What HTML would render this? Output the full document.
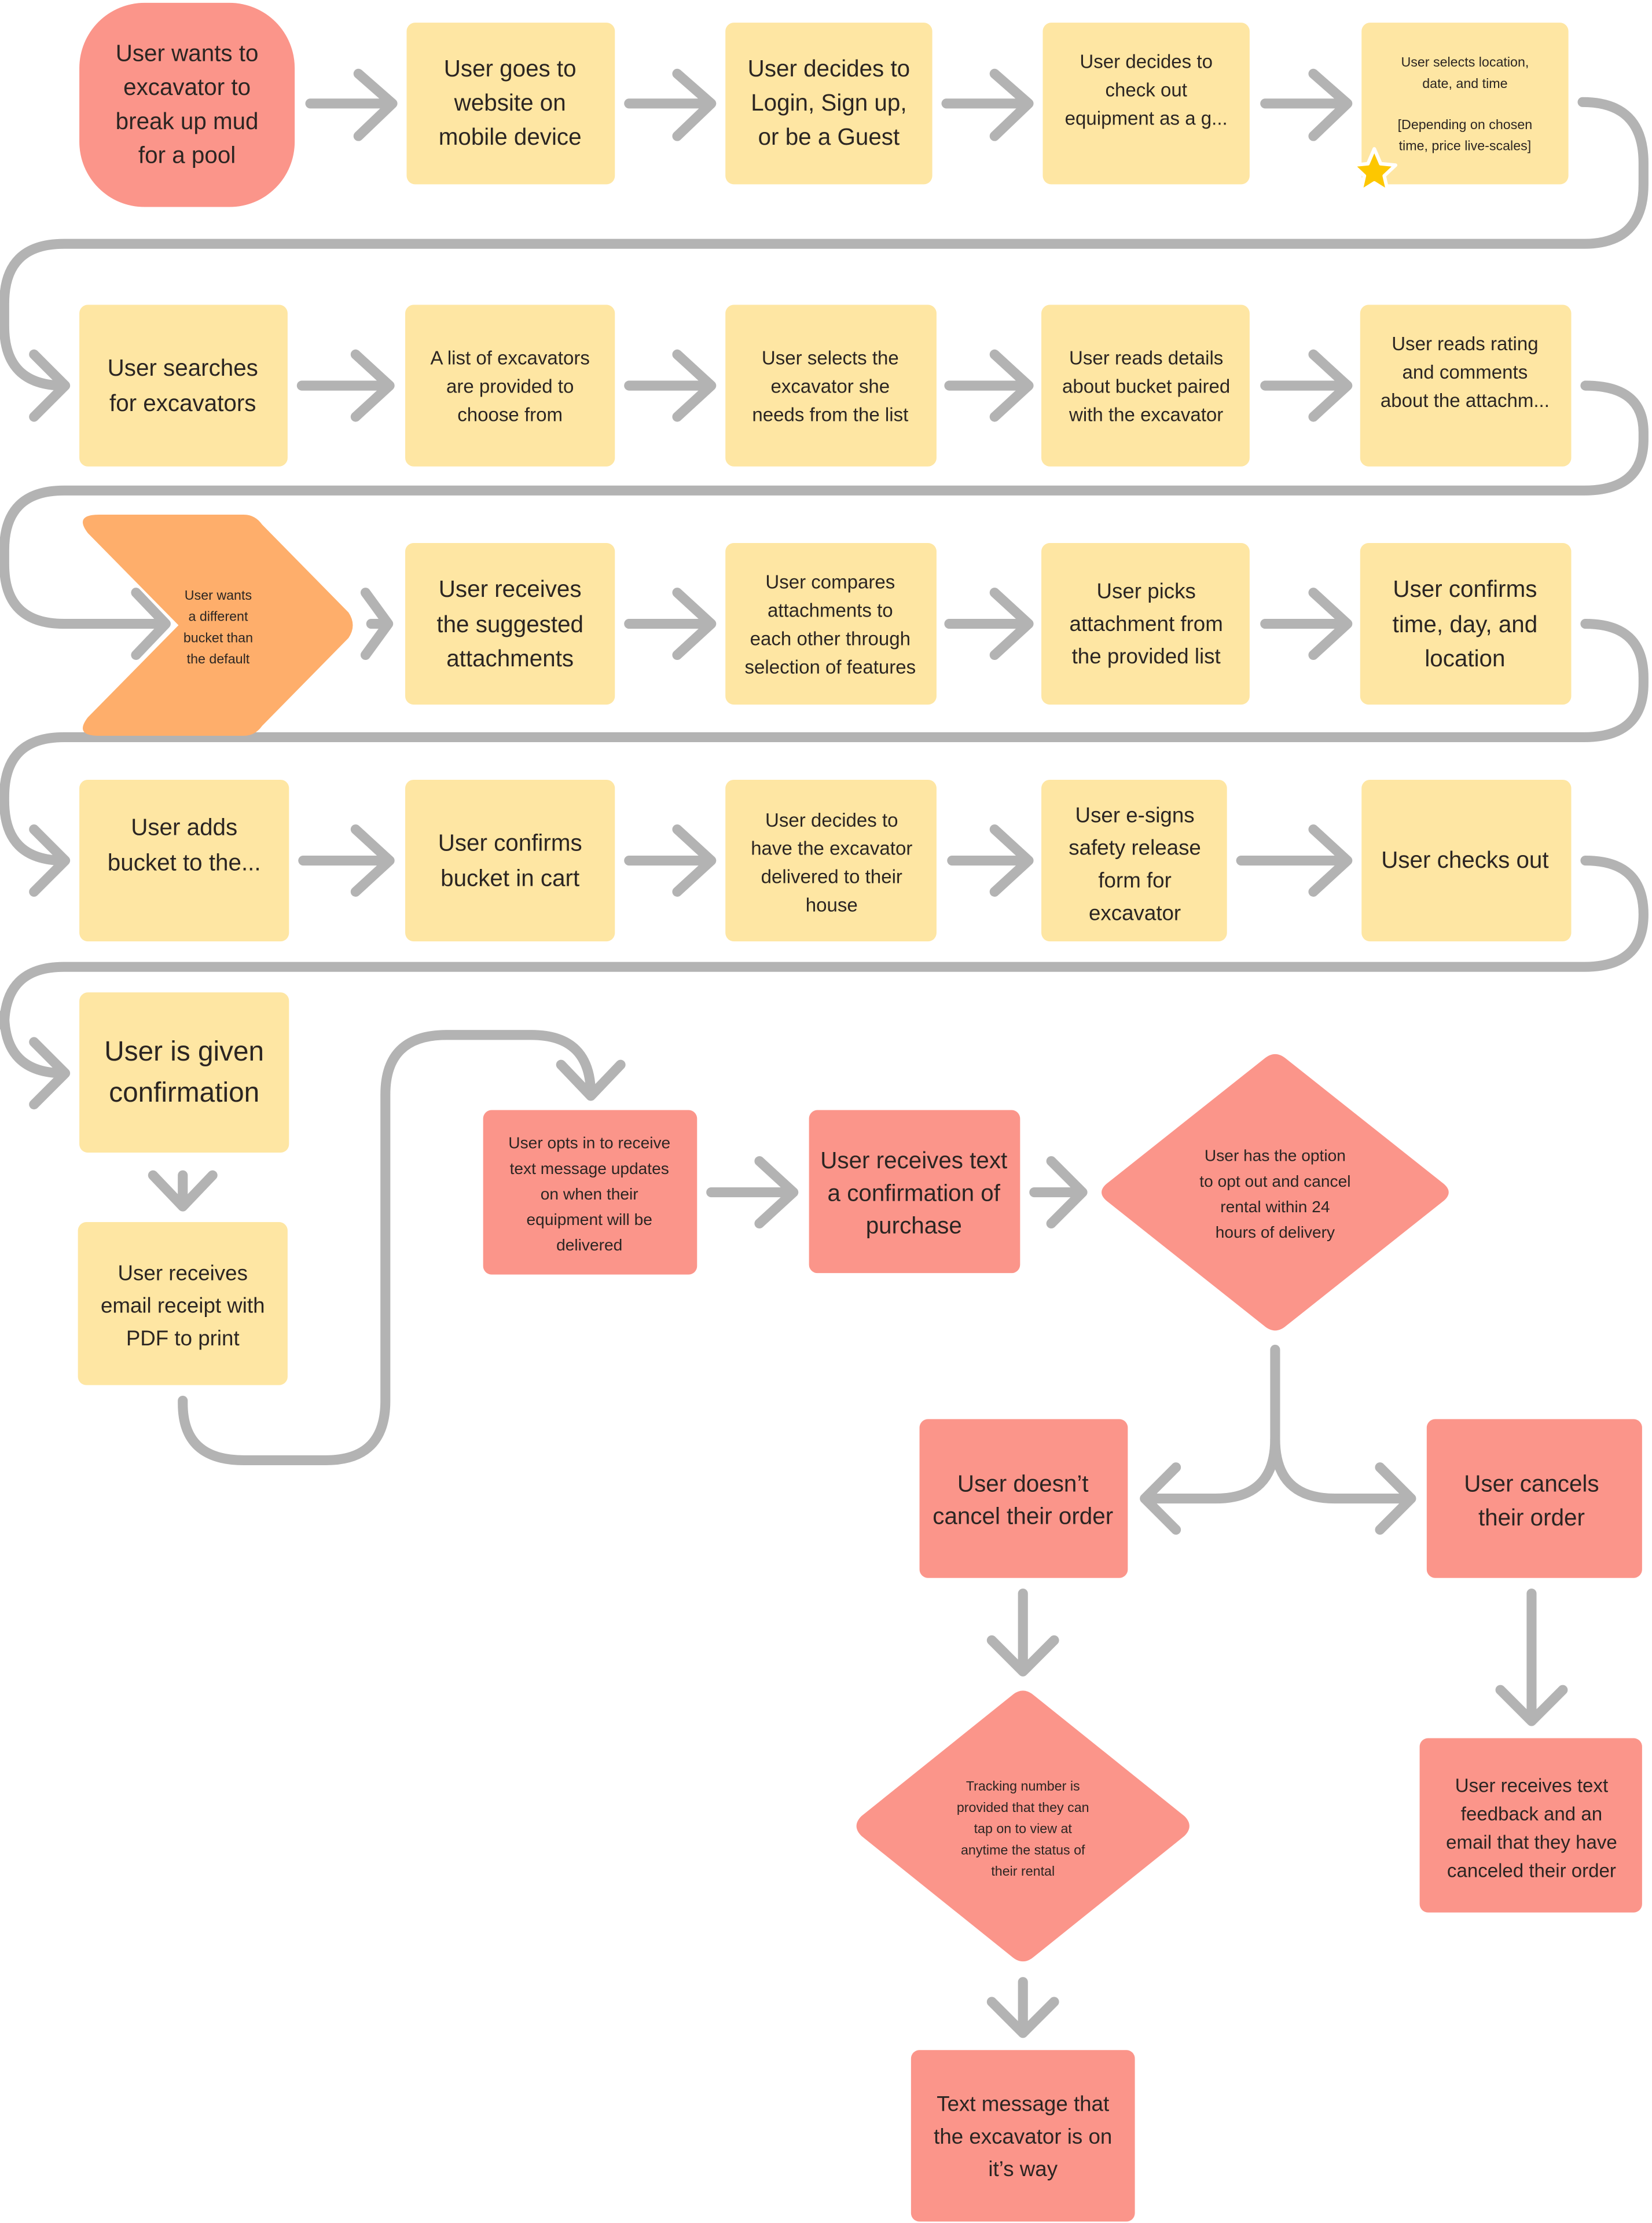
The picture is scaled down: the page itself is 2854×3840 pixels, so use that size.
<!DOCTYPE html>
<html><head><meta charset="utf-8"><style>html,body{margin:0;padding:0;background:#fff}svg{display:block}</style></head>
<body>
<svg xmlns="http://www.w3.org/2000/svg" width="2854" height="3840" viewBox="0 0 1166 1568" preserveAspectRatio="none" font-family="Liberation Sans, sans-serif" fill="#2b2522">
<defs>
<style>
.y{fill:#FEE6A3}.r{fill:#FB958A}.o{fill:#FEAE6B}
.l{fill:none;stroke:#B3B3B3;stroke-width:7;stroke-linecap:round;stroke-linejoin:round}
text{text-anchor:middle}
</style>
</defs>
<!-- connectors -->
<g class="l">
<!-- row1 arrows -->
<path d="M219,73H275M253,52L277,73L253,96"/>
<path d="M444,73H500M478,52L502,73L478,96"/>
<path d="M668,73H724M702,52L726,73L702,96"/>
<path d="M893,73H949M927,52L951,73L927,96"/>
<path d="M1117,72Q1160,72 1160,115V130Q1160,172 1118,172H45Q3,172 3,214V230Q3,272 45,272M24,250L46,272L24,294"/>
<!-- row2 -->
<path d="M213,272H273M251,250L275,272L251,294"/>
<path d="M444,272H500M478,250L502,272L478,294"/>
<path d="M670,272H724M702,250L726,272L702,294"/>
<path d="M893,272H949M927,250L951,272L927,294"/>
<path d="M1119,272Q1160,272 1160,305V310Q1160,346 1118,346H45Q3,346 3,388V398Q3,440 45,440H116M96,418L117,440L96,462"/>
<!-- row3 -->
<path d="M258,418L274,440L258,462M262,440H272"/>
<path d="M444,440H500M478,418L502,440L478,462"/>
<path d="M670,440H724M702,418L726,440L702,462"/>
<path d="M893,440H949M927,418L951,440L927,462"/>
<path d="M1119,440Q1160,440 1160,478V482Q1160,520 1118,520H45Q3,520 3,562V565Q3,607 45,607M24,585L46,607L24,629"/>
<!-- row4 -->
<path d="M214,607H273M251,585L275,607L251,629"/>
<path d="M444,607H500M478,585L502,607L478,629"/>
<path d="M672,607H724M702,585L726,607L702,629"/>
<path d="M876,607H949M927,585L951,607L927,629"/>
<path d="M1119,607Q1160,607 1160,645V645Q1160,682 1118,682H45Q3,682 3,724V715Q3,757 45,757M24,735L46,757L24,779"/>
<!-- row5 -->
<path d="M129,829V850M108,829L129,851L150,829"/>
<path d="M129,988V990Q129,1030 172,1030H230Q272,1030 272,988V772Q272,730 315,730H375Q417,730 417,772M396,751L417,773L438,751"/>
<path d="M502,841H558M536,819L560,841L536,863"/>
<path d="M730,841H762M742,819L764,841L742,863"/>
<path d="M900,952V1015Q900,1057 858,1057H810M830,1035L808,1057L830,1079"/>
<path d="M900,1015Q900,1057 942,1057H994M974,1035L996,1057L974,1079"/>
<path d="M722,1124V1178M700,1157L722,1179L744,1157"/>
<path d="M1081,1124V1213M1059,1192L1081,1214L1103,1192"/>
<path d="M722,1398V1433M700,1412L722,1434L744,1412"/>
</g>
<!-- shapes -->
<rect class="r" x="56" y="2" width="152" height="144" rx="46"/>
<rect class="y" x="287" y="16" width="147" height="114" rx="6"/>
<rect class="y" x="512" y="16" width="146" height="114" rx="6"/>
<rect class="y" x="736" y="16" width="146" height="114" rx="6"/>
<rect class="y" x="961" y="16" width="146" height="114" rx="6"/>

<rect class="y" x="56" y="215" width="147" height="114" rx="6"/>
<rect class="y" x="286" y="215" width="148" height="114" rx="6"/>
<rect class="y" x="512" y="215" width="149" height="114" rx="6"/>
<rect class="y" x="735" y="215" width="147" height="114" rx="6"/>
<rect class="y" x="960" y="215" width="149" height="114" rx="6"/>

<path class="o" d="M70,363H172Q180,363 185,370L246,432Q252,441 246,450L185,512Q180,519 172,519H70Q52,519 62,506L126,441L62,376Q52,363 70,363Z"/>
<rect class="y" x="286" y="383" width="148" height="114" rx="6"/>
<rect class="y" x="512" y="383" width="149" height="114" rx="6"/>
<rect class="y" x="735" y="383" width="147" height="114" rx="6"/>
<rect class="y" x="960" y="383" width="149" height="114" rx="6"/>

<rect class="y" x="56" y="550" width="148" height="114" rx="6"/>
<rect class="y" x="286" y="550" width="148" height="114" rx="6"/>
<rect class="y" x="512" y="550" width="149" height="114" rx="6"/>
<rect class="y" x="735" y="550" width="131" height="114" rx="6"/>
<rect class="y" x="961" y="550" width="148" height="114" rx="6"/>

<rect class="y" x="56" y="700" width="148" height="113" rx="6"/>
<rect class="y" x="55" y="862" width="148" height="115" rx="6"/>

<rect class="r" x="341" y="783" width="151" height="116" rx="6"/>
<rect class="r" x="571" y="783" width="149" height="115" rx="6"/>
<path class="r" d="M892,747Q900,740 908,747L1019,835Q1026,841 1019,847L908,935Q900,942 892,935L781,847Q774,841 781,835Z"/>
<rect class="r" x="649" y="1001" width="147" height="112" rx="6"/>
<rect class="r" x="1007" y="1001" width="152" height="112" rx="6"/>
<path class="r" d="M714,1196Q722,1189 730,1196L836,1281Q843,1288 836,1295L730,1380Q722,1387 714,1380L608,1295Q601,1288 608,1281Z"/>
<rect class="r" x="1002" y="1226" width="157" height="123" rx="6"/>
<rect class="r" x="643" y="1446" width="158" height="121" rx="6"/>

<!-- star -->
<path d="M970,105L974.5,115.5L985,116.5L977,124L979.5,135L970,129L960.5,135L963,124L955,116.5L965.5,115.5Z" fill="#FDC700" stroke="#fff" stroke-width="2.5" stroke-linejoin="round"/>

<!-- text -->
<g font-size="16.5">
<text x="132" y="43">User wants to</text><text x="132" y="67">excavator to</text><text x="132" y="91">break up mud</text><text x="132" y="115">for a pool</text>
<text x="360" y="54">User goes to</text><text x="360" y="78">website on</text><text x="360" y="102">mobile device</text>
<text x="585" y="54">User decides to</text><text x="585" y="78">Login, Sign up,</text><text x="585" y="102">or be a Guest</text>
<text x="129" y="265">User searches</text><text x="129" y="290">for excavators</text>
<text x="360" y="421">User receives</text><text x="360" y="446">the suggested</text><text x="360" y="470">attachments</text>
<text x="1034" y="421">User confirms</text><text x="1034" y="446">time, day, and</text><text x="1034" y="470">location</text>
<text x="130" y="589">User adds</text><text x="130" y="614">bucket to the...</text>
<text x="360" y="600">User confirms</text><text x="360" y="625">bucket in cart</text>
<text x="1034" y="612">User checks out</text>
<text x="645" y="824">User receives text</text><text x="645" y="847">a confirmation of</text><text x="645" y="870">purchase</text>
<text x="722" y="1052">User doesn’t</text><text x="722" y="1075">cancel their order</text>
<text x="1081" y="1052">User cancels</text><text x="1081" y="1076">their order</text>
</g>
<g font-size="19.5"><text x="130" y="748">User is given</text><text x="130" y="777">confirmation</text></g>
<g font-size="15">
<text x="809" y="422">User picks</text><text x="809" y="445">attachment from</text><text x="809" y="468">the provided list</text>
<text x="801" y="580">User e-signs</text><text x="801" y="603">safety release</text><text x="801" y="626">form for</text><text x="801" y="649">excavator</text>
<text x="129" y="903">User receives</text><text x="129" y="926">email receipt with</text><text x="129" y="949">PDF to print</text>
<text x="722" y="1489">Text message that</text><text x="722" y="1512">the excavator is on</text><text x="722" y="1535">it’s way</text>
</g>
<g font-size="13.5">
<text x="809" y="48">User decides to</text><text x="809" y="68">check out</text><text x="809" y="88">equipment as a g...</text>
<text x="360" y="257">A list of excavators</text><text x="360" y="277">are provided to</text><text x="360" y="297">choose from</text>
<text x="586" y="257">User selects the</text><text x="586" y="277">excavator she</text><text x="586" y="297">needs from the list</text>
<text x="809" y="257">User reads details</text><text x="809" y="277">about bucket paired</text><text x="809" y="297">with the excavator</text>
<text x="1034" y="247">User reads rating</text><text x="1034" y="267">and comments</text><text x="1034" y="287">about the attachm...</text>
<text x="586" y="415">User compares</text><text x="586" y="435">attachments to</text><text x="586" y="455">each other through</text><text x="586" y="475">selection of features</text>
<text x="587" y="583">User decides to</text><text x="587" y="603">have the excavator</text><text x="587" y="623">delivered to their</text><text x="587" y="643">house</text>
<text x="1081" y="1264">User receives text</text><text x="1081" y="1284">feedback and an</text><text x="1081" y="1304">email that they have</text><text x="1081" y="1324">canceled their order</text>
</g>
<g font-size="11.5">
<text x="416" y="810">User opts in to receive</text><text x="416" y="828">text message updates</text><text x="416" y="846">on when their</text><text x="416" y="864">equipment will be</text><text x="416" y="882">delivered</text>
<text x="900" y="819">User has the option</text><text x="900" y="837">to opt out and cancel</text><text x="900" y="855">rental within 24</text><text x="900" y="873">hours of delivery</text>
</g>
<g font-size="9.5">
<text x="1034" y="47">User selects location,</text><text x="1034" y="62">date, and time</text><text x="1034" y="91">[Depending on chosen</text><text x="1034" y="106">time, price live-scales]</text>
<text x="154" y="423">User wants</text><text x="154" y="438">a different</text><text x="154" y="453">bucket than</text><text x="154" y="468">the default</text>
<text x="722" y="1263">Tracking number is</text><text x="722" y="1278">provided that they can</text><text x="722" y="1293">tap on to view at</text><text x="722" y="1308">anytime the status of</text><text x="722" y="1323">their rental</text>
</g>
</svg>
</body></html>
